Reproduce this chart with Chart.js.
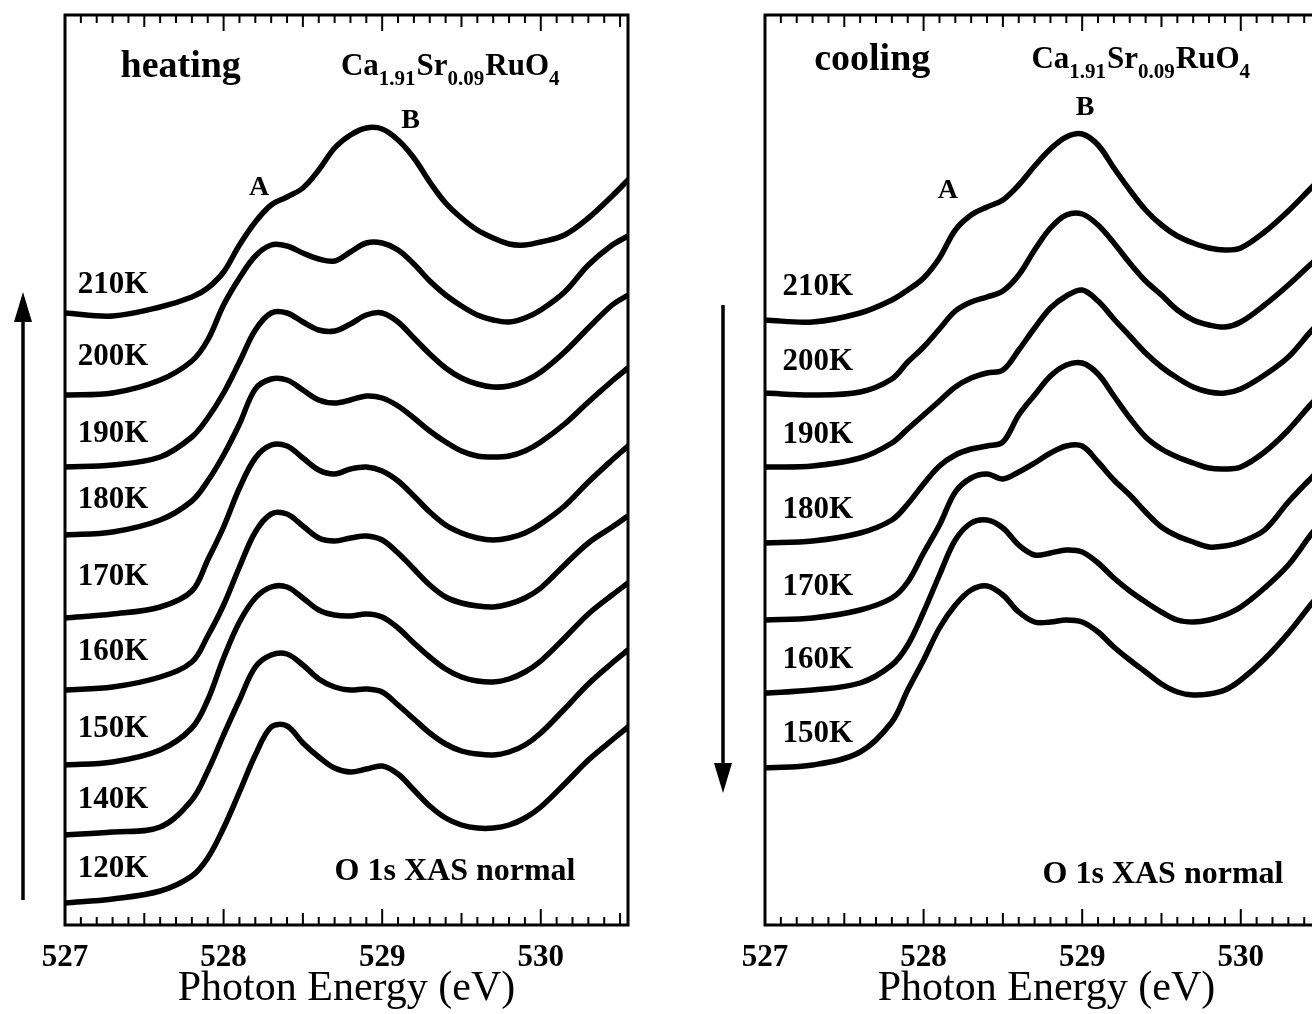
<!DOCTYPE html>
<html>
<head>
<meta charset="utf-8">
<script src="https://cdn.jsdelivr.net/npm/chart.js@4.4.0/dist/chart.umd.min.js"></script>
<style>
  html, body { margin: 0; padding: 0; background: #fff; overflow: hidden; }
  body { width: 1312px; height: 1014px; position: relative; }
  canvas { position: absolute; top: 0; }
  #heat { left: 0; }
  #cool { left: 700px; }
</style>
</head>
<body>
<canvas id="heat" width="656" height="1014"></canvas>
<canvas id="cool" width="656" height="1014"></canvas>
<script>
// O 1s XAS (normal incidence) of Ca1.91Sr0.09RuO4, heating and cooling runs
// intensities are stacked, offset included, arbitrary units (0..91 = plot height)
const energy = [527.0, 527.3, 527.6, 527.8, 527.9, 528.0, 528.1, 528.2, 528.3, 528.4, 528.5, 528.6, 528.7, 528.8, 528.9,
  529.0, 529.1, 529.2, 529.3, 529.4, 529.5, 529.6, 529.7, 529.8, 529.9, 530.0, 530.15, 530.3, 530.45, 530.55];
const xTicks = [527, 528, 529, 530];

// heating
const heatTemps = ["210K", "200K", "190K", "180K", "170K", "160K", "150K", "140K", "120K"];
const heat210 = [61.2, 60.9, 61.8, 62.8, 63.7, 65.3, 68.0, 70.3, 72.0, 72.8, 73.7, 75.5, 77.7, 79.0, 79.7, 79.6, 78.5, 76.7, 74.3, 72.2, 70.7, 69.5, 68.7, 68.1, 68.0, 68.3, 69.0, 70.7, 72.9, 74.5];
const heat200 = [53.0, 53.2, 54.5, 56.4, 58.5, 62.0, 64.7, 66.9, 68.0, 67.9, 67.2, 66.6, 66.4, 67.3, 68.2, 68.2, 67.5, 66.1, 64.4, 63.0, 61.9, 61.0, 60.5, 60.3, 60.7, 61.5, 63.3, 66.0, 68.0, 68.9];
const heat190 = [45.8, 46.0, 46.8, 48.8, 50.7, 53.2, 56.3, 59.5, 61.2, 61.2, 60.3, 59.5, 59.4, 60.1, 61.0, 61.2, 60.3, 58.7, 57.1, 55.7, 54.7, 54.1, 53.8, 53.9, 54.4, 55.3, 57.3, 59.7, 62.0, 63.0];
const heat180 = [39.0, 39.3, 40.5, 42.4, 44.4, 47.0, 50.1, 53.6, 54.6, 54.5, 53.5, 52.5, 52.2, 52.5, 52.9, 52.7, 51.9, 50.7, 49.4, 48.3, 47.4, 46.9, 46.8, 46.9, 47.4, 48.3, 50.1, 52.3, 54.4, 55.7];
const heat170 = [30.7, 31.1, 31.8, 33.4, 36.5, 39.8, 43.7, 46.7, 48.0, 47.9, 46.7, 45.5, 45.1, 45.6, 45.8, 45.4, 44.4, 42.9, 41.3, 40.0, 39.2, 38.7, 38.5, 38.7, 39.2, 40.1, 41.9, 44.3, 46.5, 47.9];
const heat160 = [23.5, 23.8, 24.8, 26.3, 28.9, 32.0, 35.8, 39.3, 41.1, 41.1, 39.9, 38.7, 38.4, 38.7, 38.9, 38.5, 37.2, 35.6, 34.0, 32.8, 32.2, 31.9, 31.8, 32.1, 32.7, 33.7, 36.0, 38.2, 39.8, 40.9];
const heat150 = [16.0, 16.3, 17.5, 19.7, 22.5, 26.7, 30.3, 32.7, 33.8, 33.8, 32.7, 31.5, 31.0, 30.9, 31.1, 30.8, 29.7, 28.2, 26.8, 25.6, 24.8, 24.4, 24.3, 24.6, 25.3, 26.4, 28.7, 31.1, 33.0, 34.2];
const heat140 = [9.0, 9.3, 9.8, 12.5, 15.4, 19.0, 22.5, 25.8, 27.0, 27.1, 26.0, 24.6, 23.8, 23.5, 23.6, 23.3, 22.0, 20.6, 19.2, 18.1, 17.4, 17.1, 17.0, 17.3, 18.0, 19.2, 21.6, 24.1, 26.2, 27.5];
const heat120 = [2.2, 2.6, 3.4, 4.9, 6.7, 9.7, 13.3, 17.0, 19.8, 19.9, 18.2, 16.8, 15.7, 15.3, 15.6, 15.9, 15.1, 13.5, 11.9, 10.7, 10.0, 9.7, 9.7, 10.0, 10.7, 11.8, 14.1, 16.5, 18.5, 19.8];
const heatLabelY = [63.2, 56.0, 48.3, 41.7, 34.0, 26.5, 18.8, 11.7, 4.8];

// cooling
const coolTemps = ["210K", "200K", "190K", "180K", "170K", "160K", "150K"];
const cool210 = [60.5, 60.3, 61.2, 62.5, 63.5, 64.7, 66.7, 69.5, 71.0, 71.8, 72.5, 74.0, 75.9, 77.6, 78.8, 79.1, 78.0, 75.7, 73.5, 71.5, 70.0, 68.9, 68.2, 67.7, 67.5, 67.7, 69.3, 71.4, 73.8, 75.3];
const cool200 = [53.2, 53.0, 53.3, 54.6, 56.3, 57.8, 59.6, 61.4, 62.3, 62.8, 63.4, 65.0, 67.5, 69.7, 71.0, 71.1, 70.0, 68.2, 66.2, 64.4, 63.0, 61.5, 60.5, 60.0, 59.8, 60.3, 62.0, 64.0, 66.2, 67.5];
const cool190 = [45.8, 45.9, 46.7, 48.2, 49.6, 51.0, 52.4, 53.8, 54.7, 55.2, 55.5, 57.5, 59.7, 61.7, 62.9, 63.5, 62.4, 60.6, 58.9, 57.2, 55.8, 54.7, 53.8, 53.3, 53.2, 53.6, 55.0, 56.8, 59.5, 61.0];
const cool180 = [38.2, 38.4, 39.2, 40.5, 42.1, 44.1, 45.9, 47.0, 47.6, 47.9, 48.3, 51.0, 53.0, 54.9, 56.0, 56.2, 55.1, 52.9, 50.7, 48.8, 47.6, 46.8, 46.2, 45.7, 45.6, 45.8, 47.3, 49.5, 52.2, 53.7];
const cool170 = [30.5, 30.7, 31.5, 32.7, 34.3, 37.2, 40.0, 43.3, 44.7, 45.1, 44.6, 45.3, 46.2, 47.2, 47.9, 47.9, 46.3, 44.5, 43.0, 41.3, 39.8, 38.9, 38.3, 37.8, 37.9, 38.3, 39.5, 42.3, 44.8, 46.3];
const cool160 = [23.2, 23.5, 24.2, 26.0, 28.0, 31.3, 35.0, 38.5, 40.2, 40.5, 39.7, 38.0, 37.0, 37.2, 37.5, 37.3, 36.2, 34.7, 33.4, 32.3, 31.3, 30.5, 30.3, 30.5, 31.0, 31.8, 33.7, 36.0, 39.2, 41.0];
const cool150 = [15.7, 16.0, 17.3, 20.3, 23.5, 26.5, 29.7, 32.0, 33.5, 33.9, 33.0, 31.3, 30.3, 30.3, 30.5, 30.3, 29.3, 27.8, 26.5, 25.3, 24.1, 23.3, 23.0, 23.1, 23.5, 24.5, 26.6, 29.2, 32.2, 34.0];
const coolLabelY = [63.0, 55.5, 48.2, 40.7, 33.0, 25.7, 18.3];

const SERIF = "'Liberation Serif', 'Times New Roman', serif";
const formula = [["Ca", 0], ["1.91", 1], ["Sr", 0], ["0.09", 1], ["RuO", 0], ["4", 1]];

// text + arrow positions per panel, in data units (eV, a.u.)
const heatNotes = { run: "heating", runAt: [527.35, 84.8], formulaAt: [528.74, 85.0], peakA: [528.16, 73.0], peakB: [529.12, 79.7],
  labelE: 527.08, xasAt: [528.70, 4.5], arrow: [2.5, 63.3] };
const coolNotes = { run: "cooling", runAt: [527.31, 85.5], formulaAt: [528.68, 85.7], peakA: [528.09, 72.7], peakB: [528.96, 81.0],
  labelE: 527.11, xasAt: [528.75, 4.2], arrow: [62.0, 13.2] };

const decor = {
  id: "decor",
  afterDatasetsDraw(chart, args, o) {
    const { ctx, chartArea: a, scales: { x, y } } = chart;
    const n = o.notes;
    const px = v => x.getPixelForValue(v), py = v => y.getPixelForValue(v);
    ctx.save();
    ctx.strokeStyle = "#000"; ctx.fillStyle = "#000";
    // frame
    ctx.lineWidth = 3;
    ctx.strokeRect(a.left, a.top, a.right - a.left, a.bottom - a.top);
    // inward ticks every 0.1 eV on top and bottom
    ctx.lineWidth = 2;
    for (let k = 0; k <= 36; k++) {
      const v = 527 + k / 10;
      if (v > x.max) break;
      const X = px(v);
      const len = k % 10 === 0 ? 16 : (k % 5 === 0 ? 12 : 8);
      ctx.beginPath();
      ctx.moveTo(X, a.bottom); ctx.lineTo(X, a.bottom - len);
      ctx.moveTo(X, a.top); ctx.lineTo(X, a.top + len);
      ctx.stroke();
    }
    // temperature arrow left of the frame
    const ax = a.left - 42, y0 = py(n.arrow[0]), y1 = py(n.arrow[1]);
    const dir = y1 < y0 ? 1 : -1, head = 30;
    ctx.lineWidth = 3.5;
    ctx.beginPath(); ctx.moveTo(ax, y0); ctx.lineTo(ax, y1 + dir * head * 0.8); ctx.stroke();
    ctx.beginPath(); ctx.moveTo(ax, y1); ctx.lineTo(ax - 9, y1 + dir * head); ctx.lineTo(ax + 9, y1 + dir * head); ctx.closePath(); ctx.fill();
    // texts
    ctx.textBaseline = "alphabetic"; ctx.textAlign = "left";
    ctx.font = "bold 38px " + SERIF;
    ctx.fillText(n.run, px(n.runAt[0]), py(n.runAt[1]));
    let fx = px(n.formulaAt[0]);
    const fy = py(n.formulaAt[1]);
    formula.forEach(([t, sub]) => {
      ctx.font = (sub ? "bold 21px " : "bold 31px ") + SERIF;
      ctx.fillText(t, fx, fy + (sub ? 10 : 0));
      fx += ctx.measureText(t).width + (sub ? 1 : 0);
    });
    ctx.font = "bold 28px " + SERIF;
    ctx.fillText("A", px(n.peakA[0]), py(n.peakA[1]));
    ctx.fillText("B", px(n.peakB[0]), py(n.peakB[1]));
    ctx.font = "bold 31px " + SERIF;
    o.temps.forEach((t, i) => ctx.fillText(t, px(n.labelE), py(o.labelY[i])));
    ctx.font = "bold 32px " + SERIF;
    ctx.fillText("O 1s XAS normal", px(n.xasAt[0]), py(n.xasAt[1]));
    ctx.restore();
  }
};

function makePanel(id, temps, series, labelY, notes) {
  return new Chart(document.getElementById(id), {
    type: "line",
    data: {
      datasets: series.map((s, i) => ({
        label: temps[i],
        data: energy.map((e, k) => ({ x: e, y: s[k] })),
        borderColor: "#000", borderWidth: 5.5, pointRadius: 0, tension: 0.35,
        borderJoinStyle: "round", borderCapStyle: "round", fill: false
      }))
    },
    options: {
      responsive: false, animation: false, devicePixelRatio: 1,
      layout: { padding: { left: 65, right: 28, top: 15, bottom: 0 } },
      plugins: { legend: { display: false }, tooltip: { enabled: false },
        decor: { notes, temps, labelY } },
      scales: {
        x: {
          type: "linear", min: 527, max: 530.55,
          afterBuildTicks: s => { s.ticks = xTicks.map(v => ({ value: v })); },
          afterFit: s => { s.height = 89; },
          grid: { display: false, drawTicks: false },
          border: { display: false },
          ticks: { color: "#000", padding: 14, maxRotation: 0, autoSkip: false,
            font: { family: SERIF, size: 31, weight: "bold" } },
          title: { display: true, text: "Photon Energy (eV)", color: "#000", padding: 0,
            font: { family: SERIF, size: 42 } }
        },
        y: { display: false, min: 0, max: 91 }
      }
    },
    plugins: [decor]
  });
}

makePanel("heat", heatTemps, [heat210, heat200, heat190, heat180, heat170, heat160, heat150, heat140, heat120], heatLabelY, heatNotes);
makePanel("cool", coolTemps, [cool210, cool200, cool190, cool180, cool170, cool160, cool150], coolLabelY, coolNotes);
</script>
</body>
</html>
